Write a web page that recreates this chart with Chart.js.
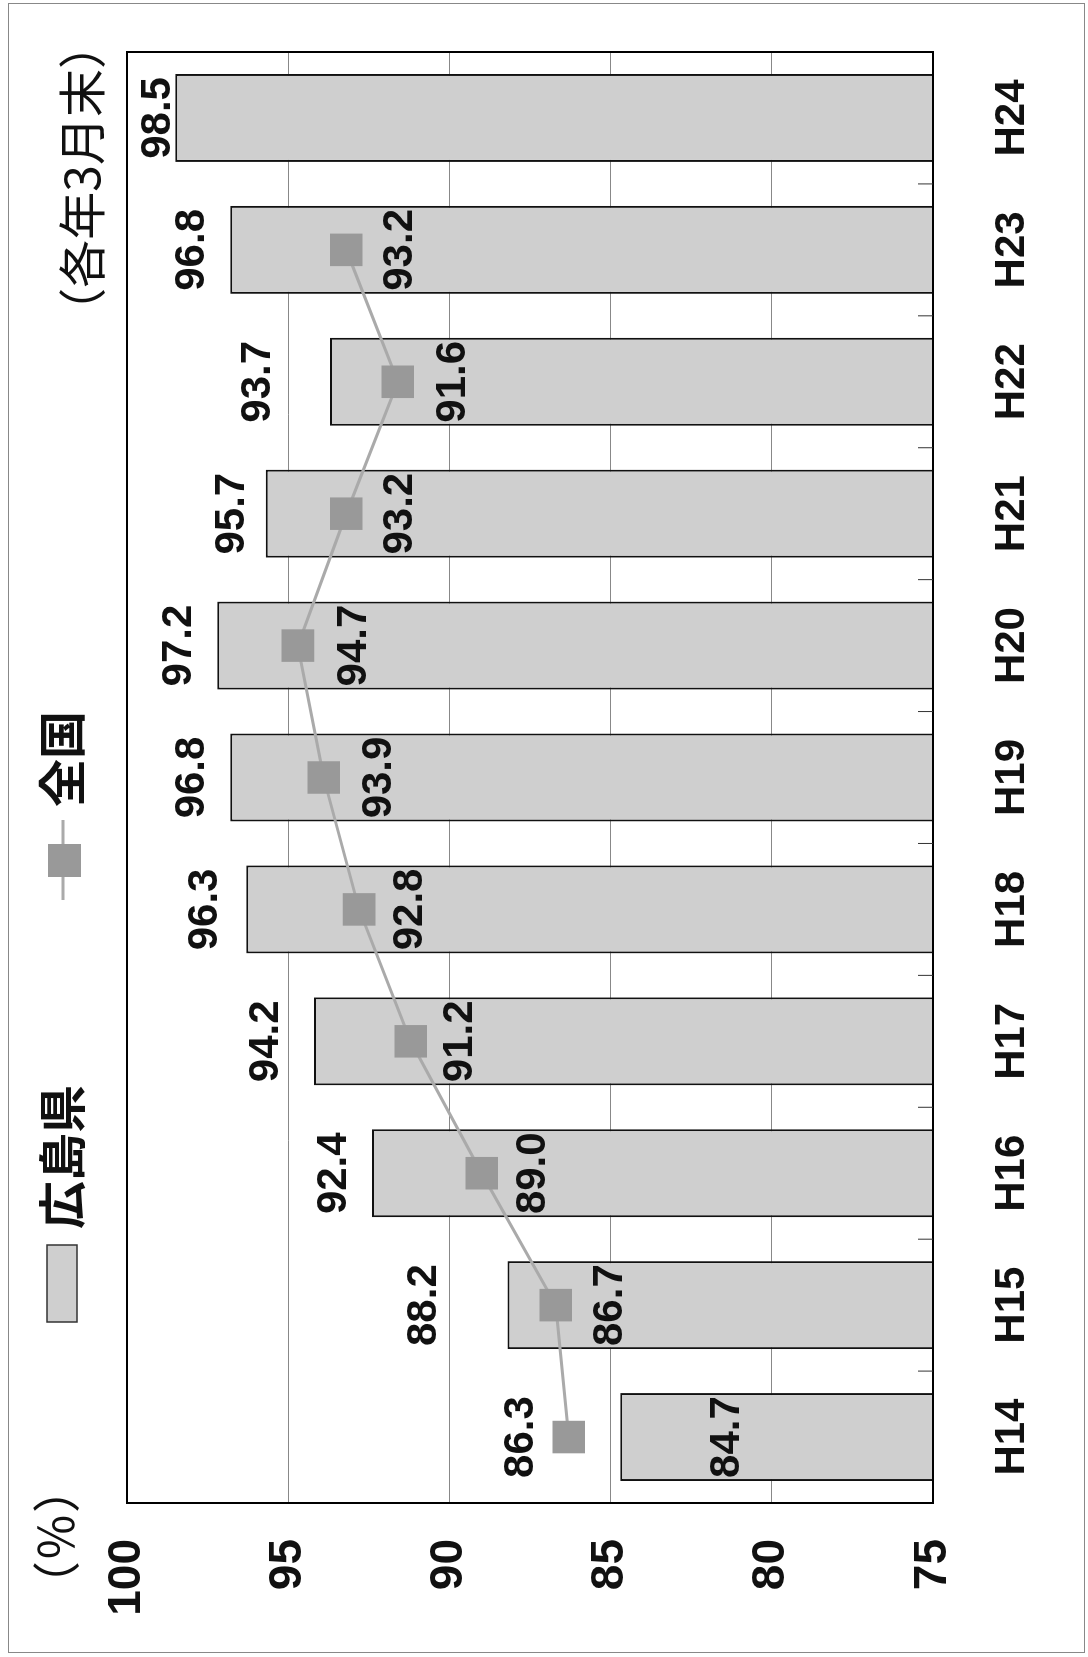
<!DOCTYPE html>
<html>
<head>
<meta charset="utf-8">
<script src="https://cdn.jsdelivr.net/npm/chart.js@4.4.1/dist/chart.umd.min.js"></script>
<style>
html, body { margin: 0; padding: 0; background: #fff; overflow: hidden; }
#wrap {
    position: absolute; left: 0; top: 0;
    width: 1657px; height: 1088px;
    transform-origin: 0 0;
    transform: translateY(1657px) rotate(-90deg); /* chart is printed on its side */
}
</style>
</head>
<body>
<div id="wrap"><canvas id="chart1" width="1657" height="1088"></canvas></div>
<script>
const years = ['H14', 'H15', 'H16', 'H17', 'H18', 'H19', 'H20', 'H21', 'H22', 'H23', 'H24'];
const hiroshima = [84.7, 88.2, 92.4, 94.2, 96.3, 96.8, 97.2, 95.7, 93.7, 96.8, 98.5];
const national = [86.3, 86.7, 89.0, 91.2, 92.8, 93.9, 94.7, 93.2, 91.6, 93.2, null];
const valueTicks = [75, 80, 85, 90, 95, 100];

// where each value label sits relative to its bar top / point (px)
const barLabelShift = [107, -83, -38, -48, -41, -38, -38, -33, -72, -38, -17];
const lineLabelShift = [-47, 55, 52, 50, 51, 56, 57, 54, 56, 54, 0];

const numFont = "'Liberation Sans', Arial, sans-serif";
const cjkFont = "'Noto Sans CJK JP', sans-serif";
const barGrey = '#cfcfcf';
const markGrey = '#999999';

const decorations = {
    id: 'decorations',
    beforeDraw(chart) {
        const ctx = chart.ctx;
        ctx.save();
        ctx.fillStyle = '#fff';
        ctx.fillRect(0, 0, chart.width, chart.height);
        ctx.restore();
    },
    afterDatasetsDraw(chart) {
        const ctx = chart.ctx;
        const area = chart.chartArea;
        const xs = chart.scales.x;
        ctx.save();
        ctx.strokeStyle = '#000';
        ctx.lineWidth = 2;
        ctx.strokeRect(area.left, area.top, area.right - area.left, area.bottom - area.top);

        // small inward ticks between categories
        ctx.lineWidth = 1;
        ctx.strokeStyle = '#333';
        for (let i = 1; i < years.length; i++) {
            const bx = (xs.getPixelForValue(i - 1) + xs.getPixelForValue(i)) / 2;
            ctx.beginPath();
            ctx.moveTo(bx, area.bottom);
            ctx.lineTo(bx, area.bottom - 15);
            ctx.stroke();
        }

        ctx.font = 'bold 42px ' + numFont;
        ctx.fillStyle = '#111';
        ctx.textAlign = 'center';
        ctx.textBaseline = 'middle';
        chart.getDatasetMeta(0).data.forEach((bar, i) => {
            ctx.fillText(hiroshima[i].toFixed(1), bar.x, bar.y + barLabelShift[i]);
        });
        chart.getDatasetMeta(1).data.forEach((pt, i) => {
            if (national[i] === null) return;
            ctx.fillText(national[i].toFixed(1), pt.x, pt.y + lineLabelShift[i]);
        });
        ctx.restore();
    },
    afterDraw(chart) {
        const ctx = chart.ctx;
        ctx.save();
        // outer frame
        ctx.strokeStyle = '#888';
        ctx.lineWidth = 1;
        ctx.strokeRect(4.5, 8.5, 1649, 1076);

        // legend: bars
        ctx.fillStyle = barGrey;
        ctx.fillRect(335, 47, 77, 30);
        ctx.strokeStyle = '#333';
        ctx.lineWidth = 1.5;
        ctx.strokeRect(335, 47, 77, 30);
        ctx.fillStyle = '#111';
        ctx.font = 'bold 48px ' + cjkFont;
        ctx.textAlign = 'left';
        ctx.textBaseline = 'middle';
        ctx.fillText('広島県', 428, 62);

        // legend: line
        ctx.strokeStyle = '#aaa';
        ctx.lineWidth = 3;
        ctx.beginPath();
        ctx.moveTo(757, 63);
        ctx.lineTo(837, 63);
        ctx.stroke();
        ctx.fillStyle = markGrey;
        ctx.fillRect(780, 48, 33, 33);
        ctx.fillStyle = '#111';
        ctx.fillText('全国', 850, 62);

        // notes
        ctx.font = '48px ' + cjkFont;
        ctx.textAlign = 'center';
        ctx.fillText('（％）', 120, 56);
        ctx.textAlign = 'right';
        ctx.fillText('（各年3月末）', 1636, 82);
        ctx.restore();
    }
};

new Chart(document.getElementById('chart1'), {
    type: 'bar',
    data: {
        labels: years,
        datasets: [{
            type: 'bar',
            label: '広島県',
            data: hiroshima,
            backgroundColor: barGrey,
            borderColor: '#111',
            borderWidth: 2,
            borderSkipped: false,
            barPercentage: 0.667,
            categoryPercentage: 1,
            order: 2
        }, {
            type: 'line',
            label: '全国',
            data: national,
            borderColor: '#aaa',
            borderWidth: 3,
            pointStyle: 'rect',
            pointRadius: 23,
            pointBackgroundColor: markGrey,
            pointBorderColor: markGrey,
            pointBorderWidth: 0,
            order: 1
        }]
    },
    options: {
        responsive: false,
        animation: false,
        devicePixelRatio: 1,
        layout: { padding: { left: 0, top: 127, right: 52, bottom: 0 } },
        plugins: {
            legend: { display: false },
            tooltip: { enabled: false }
        },
        scales: {
            x: {
                grid: { display: false },
                border: { display: false },
                ticks: {
                    color: '#111',
                    font: { family: numFont, size: 42, weight: 'bold' },
                    padding: 46
                },
                afterFit(scale) { scale.height = 155; }
            },
            y: {
                min: 75,
                max: 100,
                afterBuildTicks(scale) {
                    scale.ticks = valueTicks.map(v => ({ value: v }));
                },
                grid: { color: '#888', lineWidth: 1, drawTicks: false },
                border: { display: false },
                ticks: {
                    color: '#111',
                    font: { family: numFont, size: 46, weight: 'bold' },
                    padding: 36
                },
                afterFit(scale) { scale.width = 154; }
            }
        }
    },
    plugins: [decorations]
});
</script>
</body>
</html>
